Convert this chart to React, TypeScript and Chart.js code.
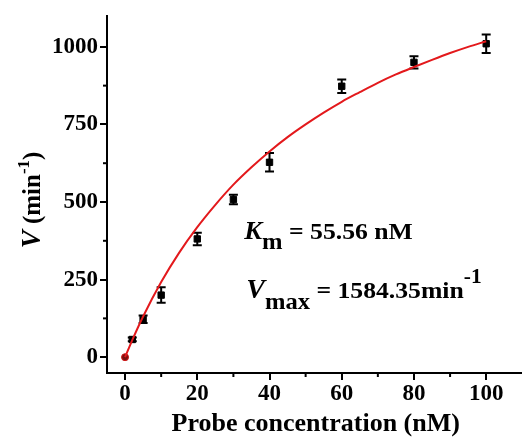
import React, { useEffect, useRef } from "react";
import { Chart, registerables } from "chart.js";

Chart.register(...registerables);

// Measured data (probe concentration in nM, velocity in min^-1)
const concentrations = [0, 2, 5, 10, 20, 30, 40, 60, 80, 100];
const velocities = [0, 57, 122, 200, 381, 508, 628, 873, 950, 1010];
const errors = [0, 6, 12, 25, 20, 15, 30, 22, 20, 30];

// Fitted Michaelis-Menten curve
const fitX = [0, 2, 5, 10, 15, 20, 25, 30, 35, 40, 45, 50, 55, 60, 65, 70, 75, 80, 85, 90, 95, 100];
const fitY = [0, 55, 131, 242, 337, 419, 491, 556, 612, 663, 709, 750, 788, 823, 854, 884, 911, 935, 958, 980, 1000, 1018];

// Axis tick labels
const xTicks = [0, 20, 40, 60, 80, 100];
const yTicks = [0, 250, 500, 750, 1000];

const FONT = "'Liberation Serif', 'Times New Roman', serif";

type Seg = { t: string; size: number; italic?: boolean; dy?: number; sx?: number };

function drawSegs(ctx: CanvasRenderingContext2D, segs: Seg[], x: number, y: number, center = false) {
  const fontOf = (s: Seg) => `${s.italic ? "italic " : ""}bold ${s.size}px ${FONT}`;
  const widthOf = (s: Seg) => {
    ctx.font = fontOf(s);
    return ctx.measureText(s.t).width * (s.sx || 1);
  };
  let total = 0;
  segs.forEach((s) => {
    total += widthOf(s);
  });
  let cx = center ? x - total / 2 : x;
  segs.forEach((s) => {
    const w = widthOf(s);
    ctx.save();
    ctx.translate(cx, y + (s.dy || 0));
    ctx.scale(s.sx || 1, 1);
    ctx.font = fontOf(s);
    ctx.fillText(s.t, 0, 0);
    ctx.restore();
    cx += w;
  });
}

const decor = {
  id: "decor",
  beforeDatasetsDraw(chart: any) {
    const { ctx, scales } = chart;
    const x = scales.x;
    const y = scales.y;
    ctx.save();
    ctx.strokeStyle = "#000";
    ctx.lineWidth = 2;
    concentrations.forEach((c, i) => {
      const e = errors[i];
      if (!e) return;
      const px = x.getPixelForValue(c);
      const top = y.getPixelForValue(velocities[i] + e);
      const bot = y.getPixelForValue(velocities[i] - e);
      ctx.beginPath();
      ctx.moveTo(px, top);
      ctx.lineTo(px, bot);
      ctx.moveTo(px - 4.5, top);
      ctx.lineTo(px + 4.5, top);
      ctx.moveTo(px - 4.5, bot);
      ctx.lineTo(px + 4.5, bot);
      ctx.stroke();
    });
    ctx.restore();
  },
  afterDraw(chart: any) {
    const { ctx, chartArea, scales } = chart;
    const x = scales.x;
    const y = scales.y;
    ctx.save();
    // minor ticks
    ctx.strokeStyle = "#000";
    ctx.lineWidth = 2;
    for (let i = 0; i < xTicks.length - 1; i++) {
      const v = (xTicks[i] + xTicks[i + 1]) / 2;
      const px = x.getPixelForValue(v);
      ctx.beginPath();
      ctx.moveTo(px, chartArea.bottom);
      ctx.lineTo(px, chartArea.bottom + 4);
      ctx.stroke();
    }
    for (let i = 0; i < yTicks.length - 1; i++) {
      const v = (yTicks[i] + yTicks[i + 1]) / 2;
      const py = y.getPixelForValue(v);
      ctx.beginPath();
      ctx.moveTo(chartArea.left, py);
      ctx.lineTo(chartArea.left - 4, py);
      ctx.stroke();
    }
    ctx.fillStyle = "#000";
    ctx.textBaseline = "alphabetic";
    ctx.textAlign = "left";
    // x title
    drawSegs(ctx, [{ t: "Probe concentration (nM)", size: 26 }], (chartArea.left + chartArea.right) / 2 + 2, 431, true);
    // y title
    ctx.save();
    ctx.translate(40, 200);
    ctx.rotate(-Math.PI / 2);
    drawSegs(
      ctx,
      [
        { t: "V", size: 27, italic: true },
        { t: " (min", size: 25 },
        { t: "-1", size: 17, dy: -11 },
        { t: ")", size: 25 },
      ],
      0,
      0,
      true
    );
    ctx.restore();
    // annotations
    const ax = x.getPixelForValue(33);
    const SX = 1.07;
    drawSegs(
      ctx,
      [
        { t: "K", size: 25, italic: true, sx: SX },
        { t: "m", size: 23, dy: 10, sx: SX },
        { t: " = 55.56 nM", size: 24, sx: SX },
      ],
      ax,
      y.getPixelForValue(382)
    );
    drawSegs(
      ctx,
      [
        { t: "V", size: 28, italic: true },
        { t: "max", size: 23, dy: 11, sx: SX },
        { t: " = 1584.35min", size: 24, sx: SX },
        { t: "-1", size: 20, dy: -15, sx: SX },
      ],
      ax + 2,
      y.getPixelForValue(191)
    );
    ctx.restore();
  },
};

export default function App() {
  const ref = useRef<HTMLCanvasElement | null>(null);
  useEffect(() => {
    document.body.style.margin = "0";
    if (!ref.current) return;
    const tickFont = { family: FONT, size: 23, weight: "bold" as const };
    const chart = new Chart(ref.current, {
      type: "scatter",
      data: {
        datasets: [
          {
            type: "line",
            data: fitX.map((v, i) => ({ x: v, y: fitY[i] })),
            borderColor: "#e3191c",
            borderWidth: 2,
            pointRadius: 0,
            cubicInterpolationMode: "monotone",
            fill: false,
          } as any,
          {
            data: concentrations.map((v, i) => ({ x: v, y: velocities[i] })),
            showLine: false,
            pointStyle: (c: any) => (c.dataIndex === 0 ? "circle" : "rect"),
            pointRadius: (c: any) => (c.dataIndex === 0 ? 3.5 : 4.5),
            backgroundColor: (c: any) => (c.dataIndex === 0 ? "#7a1010" : "#000"),
            borderColor: (c: any) => (c.dataIndex === 0 ? "#d01818" : "#000"),
            borderWidth: 1,
          } as any,
        ],
      },
      options: {
        responsive: false,
        animation: false,
        layout: { padding: { top: 14, right: 3, left: 0, bottom: 0 } },
        plugins: { legend: { display: false }, tooltip: { enabled: false } },
        scales: {
          x: {
            type: "linear",
            min: -5,
            max: 109.5,
            grid: { display: true, drawOnChartArea: false, drawTicks: true, tickLength: 7, tickWidth: 2, color: "#000", lineWidth: 2 },
            border: { display: true, color: "#000", width: 2 },
            ticks: { font: tickFont, color: "#000", padding: 0, maxRotation: 0, callback: (v: any) => String(v) },
            afterBuildTicks: (s: any) => {
              s.ticks = xTicks.map((v) => ({ value: v }));
            },
            afterFit: (s: any) => {
              s.height = 64;
            },
          },
          y: {
            type: "linear",
            min: -51,
            max: 1100,
            grid: { display: true, drawOnChartArea: false, drawTicks: true, tickLength: 7, tickWidth: 2, color: "#000", lineWidth: 2 },
            border: { display: true, color: "#000", width: 2 },
            ticks: { font: tickFont, color: "#000", padding: 2, callback: (v: any) => String(v) },
            afterBuildTicks: (s: any) => {
              s.ticks = yTicks.map((v) => ({ value: v }));
            },
            afterFit: (s: any) => {
              s.width = 107;
            },
          },
        },
      },
      plugins: [decor],
    });
    return () => chart.destroy();
  }, []);
  return (
    <div style={{ position: "fixed", left: 0, top: 0, width: 526, height: 437, background: "#fff" }}>
      <canvas ref={ref} width={526} height={437} />
    </div>
  );
}
